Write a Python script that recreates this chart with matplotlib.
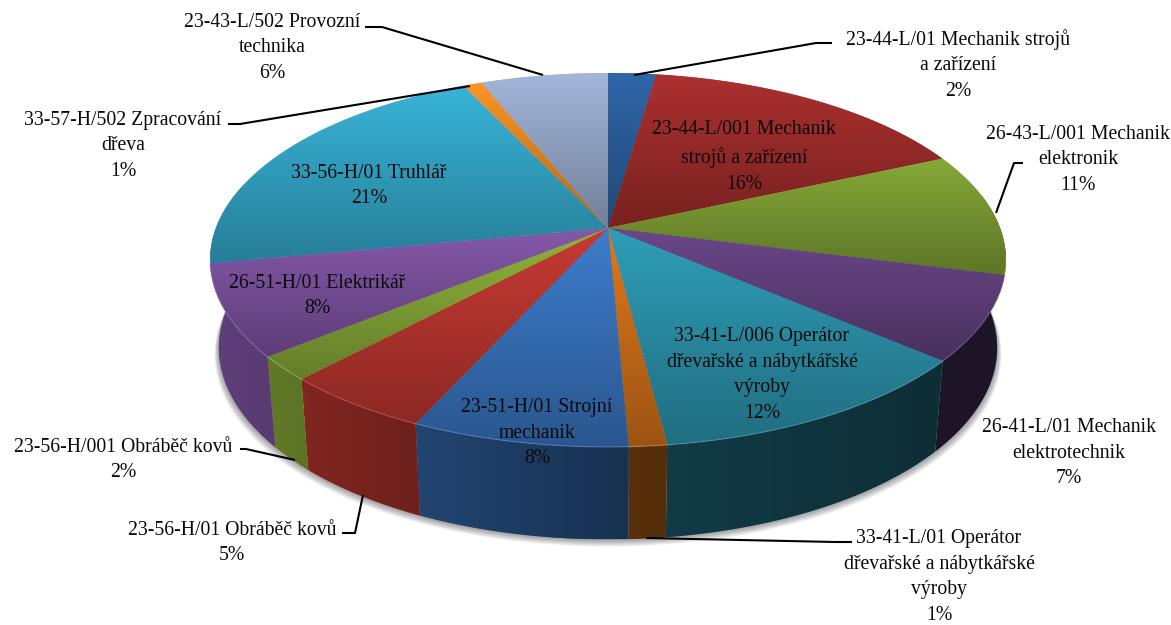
import numpy as np
import matplotlib
matplotlib.use('Agg')
import matplotlib.pyplot as plt
from matplotlib.patches import PathPatch, Polygon
from matplotlib.path import Path

plt.rcParams['font.family'] = ['Liberation Serif', 'DejaVu Serif']

# podily jednotlivych oboru v %, po smeru hodin od 12:00 (odhad z obrazku)
shares = [2.3, 16.0, 10.7, 7.3, 11.7, 1.3, 7.5, 5.2, 2.1, 7.9, 21.0, 0.9, 6.1]
labels = ['23-44-L/01 Mechanik strojů\na zařízení\n2%',
          '23-44-L/001 Mechanik\nstrojů a zařízení\n16%',
          '26-43-L/001 Mechanik\nelektronik\n11%',
          '26-41-L/01 Mechanik\nelektrotechnik\n7%',
          '33-41-L/006 Operátor\ndřevařské a nábytkářské\nvýroby\n12%',
          '33-41-L/01 Operátor\ndřevařské a nábytkářské\nvýroby\n1%',
          '23-51-H/01 Strojní\nmechanik\n8%',
          '23-56-H/01 Obráběč kovů\n5%',
          '23-56-H/001 Obráběč kovů\n2%',
          '26-51-H/01 Elektrikář\n8%',
          '33-56-H/01 Truhlář\n21%',
          '33-57-H/502 Zpracování\ndřeva\n1%',
          '23-43-L/502 Provozní\ntechnika\n6%']
colors = ['#2f66a8', '#ab302e', '#86a838', '#6a4688', '#2f9db8', '#e0781c', '#3d7ccc',
          '#c83a33', '#90b43c', '#8558aa', '#38b4d8', '#fb9428', '#a2b6da']
label_xy = [(958, 65), (744, 157), (1078, 160), (1069, 453), (762, 375), (939, 577), (537, 433),
            (232, 543), (123, 460), (317, 296), (369, 186), (123, 146), (272, 48)]

# odkazove cary
leaders = [[(832, 43), (816, 43), (634, 75)],
           [(1023, 163), (1014, 163), (996, 213)],
           [(852, 542), (835, 542), (646, 538)],
           [(342, 533), (355, 533), (363, 495)],
           [(240, 449), (246, 449), (295, 460)],
           [(228, 124), (240, 124), (470, 86)],
           [(365, 27), (382, 27), (543, 75)]]

cx, cy = 608, 228
rx, ry, k = 392, 181.5, 0.171


# perspektiva kruhu, t je podil obvodu od 12:00
def top_xy(t):
    th = 2 * np.pi * np.asarray(t)
    s = -np.cos(th)
    return cx + rx * np.sin(th) / (1 - k * s), cy + ry * s / (1 - k * s)


def bottom_xy(t):
    x, y = top_xy(t)
    return cx + (x - cx) * 0.978, y + 87 + 0.025 * (y - cy)


def side_shade(x):
    return np.interp(x, [208, 420, 650, 950, 1005], [0.72, 0.55, 0.38, 0.29, 0.29])


def rgb(c):
    return np.array(matplotlib.colors.to_rgb(c))


fig = plt.figure(figsize=(11.71, 6.25), dpi=100)
ax = fig.add_axes([0, 0, 1, 1])
ax.axis('off')

edges = np.cumsum([0] + shares) / sum(shares)

# stin pod kolacem
tt = np.linspace(0, 1, 400)
bx, by = bottom_xy(tt)
for i in range(1, 9):
    sx = cx + (bx - cx) * (1 + 0.0014 * i)
    ax.add_patch(Polygon(np.c_[sx, by + i * 0.9], closed=True, fc='k', ec='none', alpha=0.05, zorder=1))

# boky, vidi se jen predni vysece, krajni dve jdou az na obrys
for i in range(3, 10):
    c = colors[i]
    t0 = edges[i] - (0.07 if i == 3 else 0)
    t1 = edges[i + 1] + (0.07 if i == 9 else 0)
    t = np.linspace(t0, t1, 80)
    x1, y1 = top_xy(t)
    x2, y2 = bottom_xy(t)
    xs = np.r_[x1, x2[::-1]]
    ys = np.r_[y1, y2[::-1]]
    patch = Polygon(np.c_[xs, ys], closed=True, fc=c, ec='none', zorder=2)
    ax.add_patch(patch)
    gx = np.linspace(xs.min(), xs.max(), 40)
    img = side_shade(gx)[None, :, None] * rgb(c)
    im = ax.imshow(img, extent=(xs.min(), xs.max(), ys.max(), ys.min()), aspect='auto',
                   interpolation='bilinear', zorder=2)
    im.set_clip_path(patch)

# horni plocha
for i, c in enumerate(colors):
    t = np.linspace(edges[i], edges[i + 1], 80)
    x1, y1 = top_xy(t)
    xs = np.r_[cx, x1]
    ys = np.r_[cy, y1]
    verts = np.c_[np.r_[xs, cx], np.r_[ys, cy]]
    patch = PathPatch(Path(verts), fc=c, ec='none', zorder=3)
    ax.add_patch(patch)
    gy = np.linspace(1.0, 0.7, 40)
    img = gy[:, None, None] * rgb(c)
    im = ax.imshow(img, extent=(xs.min(), xs.max(), ys.max(), ys.min()), aspect='auto',
                   interpolation='bilinear', zorder=3)
    im.set_clip_path(patch)
    # svetly okraj hrany
    if y1.max() > cy + 30:
        light = rgb(c) * 0.7 + 0.3
        mask = y1 > cy + 30
        ax.plot(x1[mask], y1[mask], color=light, lw=0.9, alpha=0.4, zorder=4)

for pts in leaders:
    p = np.array(pts)
    ax.plot(p[:, 0], p[:, 1], color='k', lw=1.5, zorder=5, solid_capstyle='butt')

for txt, (x, y) in zip(labels, label_xy):
    ax.text(x, y, txt, ha='center', va='center', fontsize=14.2, color='#0a0a0a',
            linespacing=1.48, zorder=6)

ax.set_xlim(0, 1171)
ax.set_ylim(625, 0)
fig.savefig('out.png', dpi=100, facecolor='white')
